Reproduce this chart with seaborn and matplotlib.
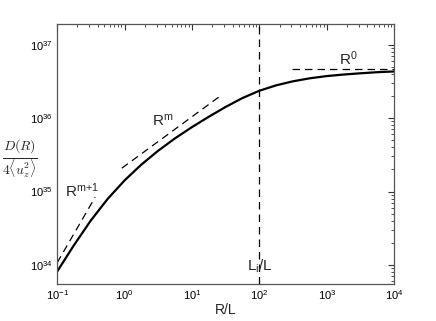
"""
Structure function D(R) vs R/L on log-log axes, with the three asymptotic
slopes (R^(m+1), R^m, R^0) and the outer scale L_i/L marked.
"""
import numpy as np
import pandas as pd
import matplotlib
matplotlib.use("Agg")
import matplotlib.pyplot as plt
import seaborn as sns

# curve (log10 values)
log_r = [-1.0, -0.75, -0.5, -0.25, 0.0, 0.25, 0.5, 0.75, 1.0, 1.25, 1.5,
         1.75, 2.0, 2.25, 2.5, 2.75, 3.0, 3.25, 3.5, 3.75, 4.0]
log_d = [33.91, 34.27, 34.606, 34.90, 35.151, 35.367, 35.556, 35.725, 35.877,
         36.018, 36.152, 36.273, 36.372, 36.446, 36.501, 36.542, 36.572,
         36.593, 36.61, 36.625, 36.635]

# asymptote segments (log10 endpoints)
mp1_log_r = [-1.0, -0.436]
mp1_log_d = [34.03, 34.923]
m_log_r = [-0.04, 1.446]
m_log_d = [35.318, 36.318]
zero_log_r = [2.485, 4.0]
zero_log_d = [36.675, 36.675]
outer_scale = 100

sns.set_style("white")
plt.rcParams["font.family"] = ["Liberation Sans", "DejaVu Sans"]
plt.rcParams["mathtext.fontset"] = "cm"

curve = pd.DataFrame({"R": 10 ** np.array(log_r), "D": 10 ** np.array(log_d)})

fig = plt.figure(figsize=(4.36, 3.21), dpi=100)
ax = fig.add_axes([0.131, 0.115, 0.773, 0.810])

sns.lineplot(data=curve, x="R", y="D", color="black", lw=1.6, ax=ax)
for lr, ld in [(mp1_log_r, mp1_log_d), (m_log_r, m_log_d), (zero_log_r, zero_log_d)]:
    sns.lineplot(x=10 ** np.array(lr), y=10 ** np.array(ld), color="black",
                 lw=0.9, ax=ax, linestyle=(0, (6, 4)))
ax.axvline(outer_scale, color="black", lw=0.9, linestyle=(0, (6, 4)))

ax.set_xscale("log")
ax.set_yscale("log")
ax.set_xlim(1e-1, 1e4)
ax.set_ylim(10 ** 33.74, 10 ** 37.28)

ax.text(0.132, 10 ** 34.92, r"$\mathdefault{R^{m{+}1}}$", fontsize=11)
ax.text(2.55, 10 ** 35.90, r"$\mathdefault{R^{m}}$", fontsize=11)
ax.text(1520, 10 ** 36.72, r"$\mathdefault{R^{0}}$", fontsize=11)
ax.text(100, 10 ** 33.93, r"$\mathdefault{L_i/L}$", fontsize=11, ha="center")

ax.set_xlabel("R/L", fontsize=10, labelpad=1)
ax.set_ylabel(r"$\frac{D(R)}{4\langle u_z^2\rangle}$", fontsize=14, rotation=0)
ax.yaxis.set_label_coords(-0.11, 0.40)

for s in ax.spines.values():
    s.set_color("#555555")
    s.set_linewidth(0.9)
ax.tick_params(which="both", direction="in", top=True, right=True,
               colors="#333333", labelcolor="black", labelsize=8, pad=3)
ax.tick_params(which="major", length=4, width=0.8)
ax.tick_params(which="minor", length=2, width=0.6)
ax.minorticks_on()

fig.savefig("out.png", dpi=100)
plt.close(fig)
